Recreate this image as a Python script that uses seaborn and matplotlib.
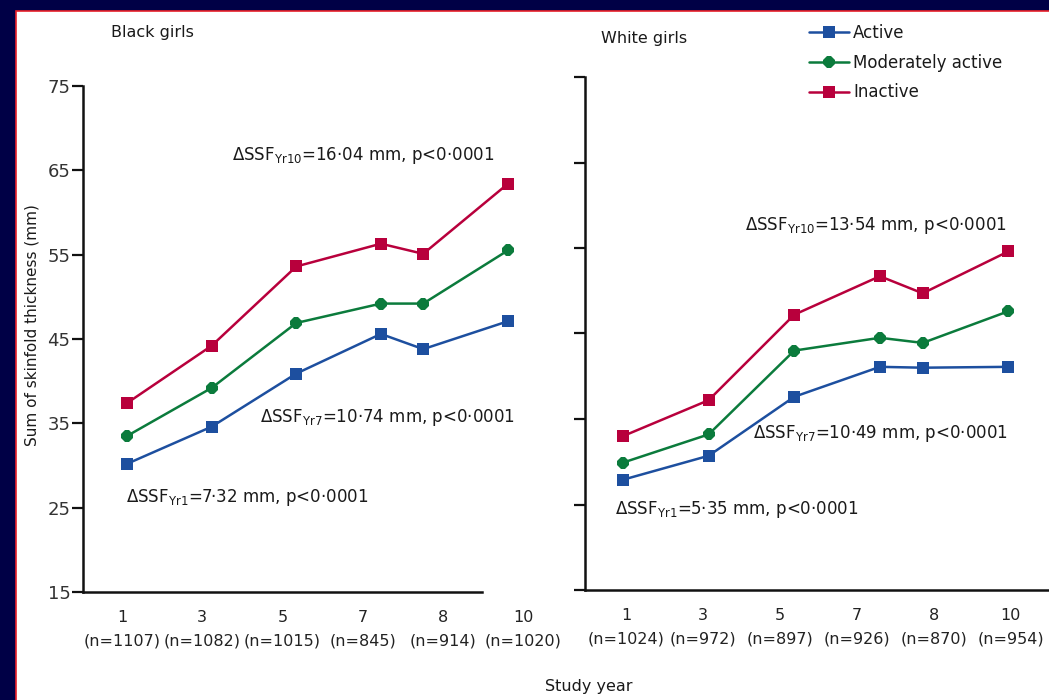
import numpy as np
import pandas as pd
import matplotlib
matplotlib.use("Agg")
import matplotlib.pyplot as plt
import seaborn as sns
from matplotlib.lines import Line2D
from matplotlib.patches import Rectangle

# ---------------- data ----------------
years = [1, 3, 5, 7, 8, 10]
levels = ["Active", "Moderately active", "Inactive"]

black_active = [30.2, 34.6, 40.9, 45.6, 43.8, 47.1]
black_moderate = [33.5, 39.2, 46.9, 49.2, 49.2, 55.5]
black_inactive = [37.4, 44.2, 53.6, 56.3, 55.1, 63.4]

white_active = [27.9, 30.7, 37.6, 41.1, 41.0, 41.1]
white_moderate = [29.9, 33.2, 43.0, 44.5, 43.9, 47.6]
white_inactive = [33.0, 37.2, 47.2, 51.7, 49.7, 54.6]

black_n = [1107, 1082, 1015, 845, 914, 1020]
white_n = [1024, 972, 897, 926, 870, 954]

black_delta = [("Yr10", "16·04"), ("Yr7", "10·74"), ("Yr1", "7·32")]
white_delta = [("Yr10", "13·54"), ("Yr7", "10·49"), ("Yr1", "5·35")]

yticks = [15, 25, 35, 45, 55, 65, 75]

# ---------------- style ----------------
sns.set_theme(style="ticks")
plt.rcParams["font.family"] = ["DejaVu Sans"]
plt.rcParams["mathtext.default"] = "regular"

W, H = 1049, 700
def fx(px):
    return px / W
def fy(py):
    return 1 - py / H

palette = {"Active": "#1d4f9f", "Moderately active": "#0b7b3c", "Inactive": "#b8003c"}
markers = {"Active": "s", "Moderately active": "8", "Inactive": "s"}
TXT = "#1a1a1a"


def make_df(a, m, i):
    rows = []
    for lvl, vals in zip(levels, [a, m, i]):
        for yr, v in zip(years, vals):
            rows.append({"year": yr, "ssf": v, "activity": lvl})
    return pd.DataFrame(rows)


fig = plt.figure(figsize=(W / 100, H / 100), dpi=100, facecolor="#000046")
fig.add_artist(Rectangle((fx(16), -0.05), 1.2, fy(11) + 0.05, transform=fig.transFigure,
                         facecolor="white", edgecolor="#e8202a", linewidth=1.2, zorder=0))

ax1 = fig.add_axes([fx(83), fy(592), (540 - 83) / W, (592 - 86) / H])
ax2 = fig.add_axes([fx(585), fy(590), (1049 - 585) / W, (590 - 77) / H])

panels = [
    (ax1, make_df(black_active, black_moderate, black_inactive), black_n,
     (-0.04, 10.76), np.linspace(0.88, 10.36, 6), (-0.04, 9.39)),
    (ax2, make_df(white_active, white_moderate, white_inactive), white_n,
     (0.112, 10.95), np.linspace(1.07, 10.05, 6), (0.112, 10.95)),
]

for ax, df, ns, xlim, xt, xb in panels:
    ax.set_facecolor("none")
    sns.lineplot(data=df, x="year", y="ssf", hue="activity", hue_order=levels,
                 style="activity", style_order=levels, markers=markers, dashes=False,
                 palette=palette, markersize=9, linewidth=1.8, markeredgewidth=0,
                 estimator=None, sort=False, legend=False, ax=ax, clip_on=False)
    ax.set_xlim(*xlim)
    ax.set_ylim(15, 75)
    ax.set_yticks(yticks)
    ax.set_xticks(xt)
    ax.set_xticklabels([f"{y}\n(n={n})" for y, n in zip(years, ns)])
    for lbl in ax.get_xticklabels():
        lbl.set_linespacing(1.7)
    ax.set_xlabel("")
    ax.set_ylabel("")
    for s in ["top", "right"]:
        ax.spines[s].set_visible(False)
    for s in ["left", "bottom"]:
        ax.spines[s].set_linewidth(1.8)
        ax.spines[s].set_color("#111111")
    ax.spines["bottom"].set_bounds(*xb)
    ax.tick_params(axis="y", length=8, width=1.6, color="#111111", direction="out",
                   labelsize=13, labelcolor="#333333", pad=1)
    ax.tick_params(axis="x", length=0, pad=13, labelsize=11.5, labelcolor="#222222")

ax2.tick_params(axis="y", labelleft=False)

# titles
fig.text(fx(111), fy(33), "Black girls", ha="left", va="center", fontsize=11.5, color=TXT)
fig.text(fx(601), fy(38), "White girls", ha="left", va="center", fontsize=11.5, color=TXT)

# delta annotations
black_pos = [(232, 156), (260, 417), (126, 497)]
white_pos = [(745, 225), (753, 434), (615, 510)]
for deltas, pos in [(black_delta, black_pos), (white_delta, white_pos)]:
    for (yr, val), (px, py) in zip(deltas, pos):
        fig.text(fx(px), fy(py), r"$\Delta$SSF$_{\mathrm{" + yr + "}}$=" + val + " mm, p<0·0001",
                 ha="left", va="center", fontsize=12, color=TXT)

# axis labels
fig.text(fx(32), fy(325), "Sum of skinfold thickness (mm)", rotation=90,
         ha="center", va="center", fontsize=11, color=TXT)
fig.text(fx(589), fy(687), "Study year", ha="center", va="center", fontsize=11.5, color=TXT)

# legend
handles = [Line2D([], [], color=palette[l], marker=markers[l], markersize=9,
                  linewidth=1.8, markeredgewidth=0) for l in levels]
fig.legend(handles, levels, loc="upper left", bbox_to_anchor=(fx(809), fy(24)),
           frameon=False, fontsize=12, handlelength=2.4, handletextpad=0.25,
           labelspacing=0.7, borderpad=0, borderaxespad=0, labelcolor=TXT)

fig.savefig("out.png", dpi=100, facecolor=fig.get_facecolor())
